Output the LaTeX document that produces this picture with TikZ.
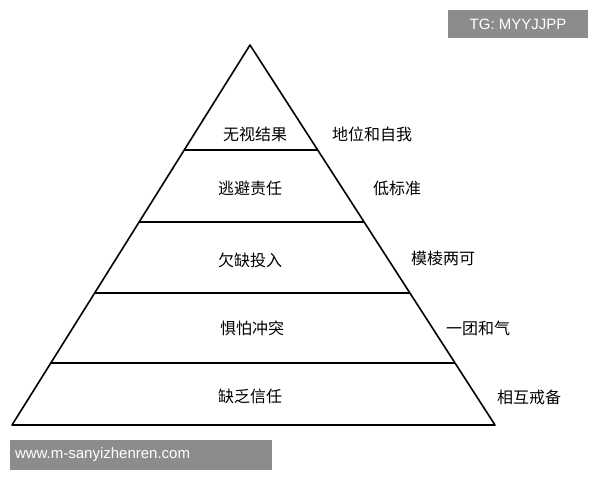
\documentclass[tikz,border=0pt]{standalone}
\usepackage{fontspec}
\newfontfamily\cjk{Noto Sans CJK SC}
\setmainfont{Liberation Sans}
\begin{document}
\begin{tikzpicture}[x=1pt,y=-1pt,
  lbl/.style={font=\cjk\fontsize{16}{18}\selectfont, inner sep=0pt},
  wm/.style={fill=black!45, text=white, font=\fontsize{15}{17}\selectfont, inner sep=0pt, anchor=center},
  edge/.style={line width=1.6pt, line join=round}]
\useasboundingbox (0,0) rectangle (600,480);
\coordinate (A) at (250,45);
\coordinate (BL) at (12,425);
\coordinate (BR) at (495,425);
\draw[edge] (A) -- (BL) -- (BR) -- cycle;
\foreach \y in {150,222,293,363}{
  \draw[edge] ({250-(\y-45)/380*238},\y) -- ({250+(\y-45)/380*245},\y);
}
\node[lbl] (l1) at (255,134) {无视结果};
\node[lbl] (l2) at (250,188) {逃避责任};
\node[lbl] (l3) at (250,260) {欠缺投入};
\node[lbl] (l4) at (252,328) {惧怕冲突};
\node[lbl] (l5) at (250,396) {缺乏信任};
\node[lbl] (r1) at (372,134) {地位和自我};
\node[lbl] (r2) at (397,188) {低标准};
\node[lbl] (r3) at (443,258) {模棱两可};
\node[lbl] (r4) at (478,328) {一团和气};
\node[lbl] (r5) at (529,397) {相互戒备};
\node[wm, minimum width=140, minimum height=28] (w1) at (518,24) {TG: MYYJJPP};
\node[wm, minimum width=262, minimum height=30, text width=252, align=left] (w2) at (141,455) {www.m-sanyizhenren.com};
\end{tikzpicture}
\end{document}
